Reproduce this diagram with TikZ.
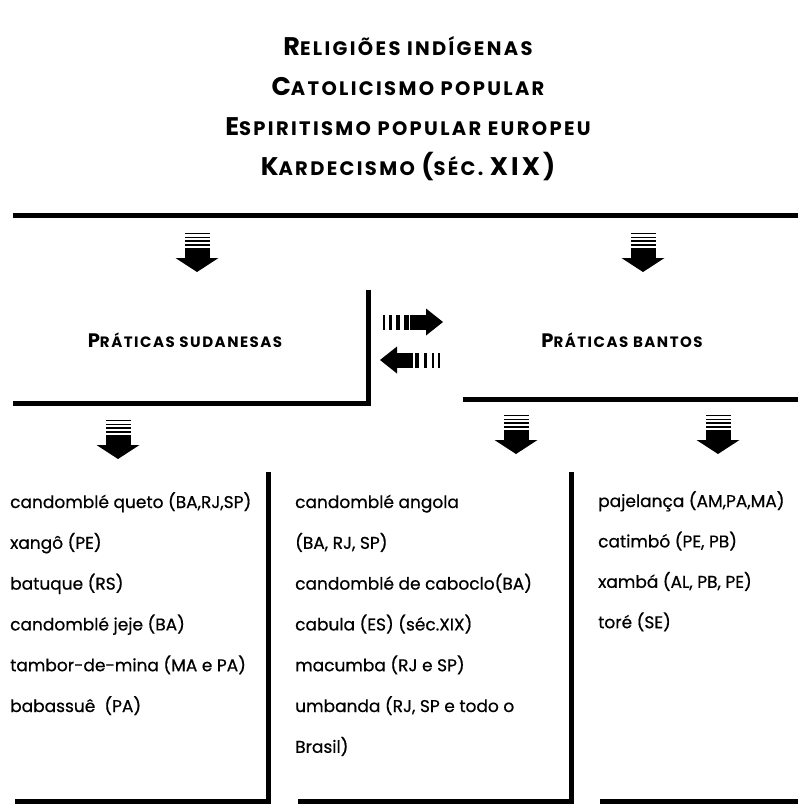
\documentclass[tikz,border=0pt]{standalone}
\usepackage{fontspec}
\setmainfont{Poppins}
\newfontfamily\titlefont[LetterSpace=12]{Poppins}
\newfontfamily\headfont[LetterSpace=10]{Poppins}
\newfontfamily\listfont[FakeBold=0.6]{Poppins}
\newcommand{\bigT}[1]{{\fontsize{25.5}{25.5}\selectfont #1}}
\newcommand{\bigH}[1]{{\fontsize{19.5}{19.5}\selectfont #1}}
\begin{document}
\begin{tikzpicture}[x=1pt,y=-1pt,
  rulel/.style={line width=5pt, line join=miter},
  titletext/.style={anchor=base, inner sep=0pt, font=\titlefont\bfseries\fontsize{19.5}{19.5}\selectfont},
  headtext/.style={anchor=base, inner sep=0pt, font=\headfont\bfseries\fontsize{15}{15}\selectfont},
  listtext/.style={anchor=base west, inner sep=0pt, font=\listfont\fontsize{17}{17}\selectfont},
  darr/.pic={
    \fill (-12.5,0) rectangle (12.5,1);
    \fill (-12.5,3.5) rectangle (12.5,5);
    \fill (-12.5,7) rectangle (12.5,9);
    \fill (-12.5,10.8) rectangle (12.5,13.3);
    \fill (-12.5,15) rectangle (12.5,25.5);
    \fill (-21.5,25) -- (21.5,25) -- (0,39) -- cycle;
  },
  rarr/.pic={
    \fill (0,-7.5) rectangle (2,7.5);
    \fill (6,-7.5) rectangle (8.5,7.5);
    \fill (13,-7.5) rectangle (16.5,7.5);
    \fill (21,-7.5) rectangle (25.5,7.5);
    \fill (27,-7.5) rectangle (43.5,7.5);
    \fill (43,-13.5) -- (43,13.5) -- (60,0) -- cycle;
  }
]
\useasboundingbox (0,0) rectangle (798,804);
\fill[white] (0,0) rectangle (798,804);

% title
\node[titletext] (t1) at (408,55) {\bigT{R}ELIGIÕES INDÍGENAS};
\node[titletext] (t2) at (408,95) {\bigT{C}ATOLICISMO POPULAR};
\node[titletext] (t3) at (408,135) {\bigT{E}SPIRITISMO POPULAR EUROPEU};
\node[titletext] (t4) at (408,175) {\bigT{K}ARDECISMO \bigT{(}SÉC. \bigT{XIX)}};

% rules
\draw[rulel] (13,215) -- (798,215);
\draw[rulel] (368,290) -- (368,403) -- (13,403);
\draw[rulel] (463,399) -- (798,399);
\draw[rulel] (268,472) -- (268,801) -- (15,801);
\draw[rulel] (571,472) -- (571,801) -- (298,801);
\draw[rulel] (600,801) -- (798,801);

% arrows
\pic at (197,233) {darr};
\pic at (643,233) {darr};
\pic at (118,420) {darr};
\pic at (516,415) {darr};
\pic at (718,415) {darr};
\pic at (383,322) {rarr};
\pic[rotate=180] at (440,360) {rarr};

% headers
\node[headtext] (hs) at (185,347) {\bigH{P}RÁTICAS SUDANESAS};
\node[headtext] (hb) at (622,347) {\bigH{P}RÁTICAS BANTOS};

% lists
\foreach \t [count=\i] in {{candomblé queto (BA,RJ,SP)},{xangô (PE)},{batuque (RS)},{candomblé jeje (BA)},{tambor-de-mina (MA e PA)},{babassuê\ \ (PA)}}
  \node[listtext] (l\i) at (10,{508+40.8*(\i-1)}) {\t};
\foreach \t [count=\i] in {{candomblé angola},{(BA, RJ, SP)},{candomblé de caboclo(BA)},{cabula (ES) (séc.XIX)},{macumba (RJ e SP)},{umbanda (RJ, SP e todo o},{Brasil)}}
  \node[listtext] (m\i) at (295,{508+40.8*(\i-1)}) {\t};
\foreach \t [count=\i] in {{pajelança (AM,PA,MA)},{catimbó (PE, PB)},{xambá (AL, PB, PE)},{toré (SE)}}
  \node[listtext] (r\i) at (598,{507+40.4*(\i-1)}) {\t};
\end{tikzpicture}
\end{document}
